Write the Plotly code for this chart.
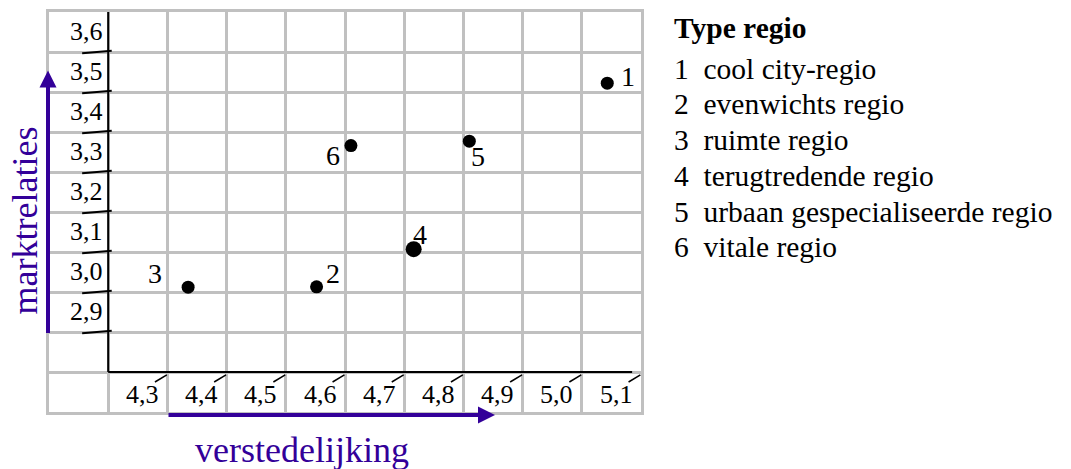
import plotly.graph_objects as go

# ---------------- data ----------------
regio_ids = ["1", "2", "3", "4", "5", "6"]
regio_names = [
    "cool city-regio",
    "evenwichts regio",
    "ruimte regio",
    "terugtredende regio",
    "urbaan gespecialiseerde regio",
    "vitale regio",
]
verstedelijking = [5.043, 4.552, 4.335, 4.716, 4.81, 4.61]
marktrelaties = [3.522, 3.013, 3.012, 3.107, 3.377, 3.366]

x_ticks = [4.3, 4.4, 4.5, 4.6, 4.7, 4.8, 4.9, 5.0, 5.1]
x_tick_labels = ["4,3", "4,4", "4,5", "4,6", "4,7", "4,8", "4,9", "5,0", "5,1"]
y_ticks = [2.9, 3.0, 3.1, 3.2, 3.3, 3.4, 3.5, 3.6]
y_tick_labels = ["2,9", "3,0", "3,1", "3,2", "3,3", "3,4", "3,5", "3,6"]

legend_title = "Type regio"
x_title = "verstedelijking"
y_title = "marktrelaties"

# ---------------- styles ----------------
FONT = "Liberation Serif"
PURPLE = "#330099"
GRID = "#c0c0c0"
X_RANGE = [4.1, 5.1]
Y_RANGE = [2.7, 3.7]
X_ORIGIN = 4.2
Y_ORIGIN = 2.8
# label offsets (px) relative to each point: (dx, dy) screen
label_offsets = [(21, -9), (16, -15), (-33, -16), (6, -17), (9, 13), (-18, 8)]
marker_sizes = [13, 13, 13, 16, 13, 13]

W, H = 1071, 469
ML, MR, MT, MB = 49, 430, 9, 57
PW = W - ML - MR
PH = H - MT - MB
LEGEND_X = 672
LEGEND_ROWS = [25, 66, 102, 138, 174, 210, 246]


def xp(v):
    return (v - X_RANGE[0]) / (X_RANGE[1] - X_RANGE[0])


def py_paper(pix):
    # pixel row (from top of figure) -> paper y
    return (H - MB - pix) / PH


def px_paper(pix):
    return (pix - ML) / PW


fig = go.Figure()
fig.add_trace(
    go.Scatter(
        x=verstedelijking,
        y=marktrelaties,
        mode="markers",
        marker=dict(color="#000000", size=marker_sizes, opacity=1, line=dict(width=0)),
        hoverinfo="skip",
        showlegend=False,
    )
)

shapes = []
annotations = []

# black axes
shapes.append(dict(type="line", xref="x", yref="y", x0=X_ORIGIN, x1=X_ORIGIN,
                   y0=Y_ORIGIN, y1=Y_RANGE[1], line=dict(color="black", width=2), layer="above"))
shapes.append(dict(type="line", xref="x", yref="y", x0=X_ORIGIN, x1=5.085,
                   y0=Y_ORIGIN, y1=Y_ORIGIN, line=dict(color="black", width=2), layer="above"))

# y tick marks + labels
for v, lab in zip(y_ticks, y_tick_labels):
    shapes.append(dict(type="line", xref="x", yref="y", x0=X_ORIGIN - 0.044, x1=X_ORIGIN + 0.006,
                       y0=v - 0.003, y1=v + 0.003, line=dict(color="black", width=2), layer="above"))
    annotations.append(dict(xref="x", yref="y", x=X_ORIGIN, y=v + 0.05, text=lab,
                            xanchor="right", yanchor="middle", xshift=-3, yshift=1,
                            showarrow=False, font=dict(family=FONT, size=26, color="black")))

# x tick marks + labels
for v, lab in zip(x_ticks, x_tick_labels):
    shapes.append(dict(type="line", xref="x", yref="y", x0=v - 0.021, x1=v - 0.001,
                       y0=Y_ORIGIN - 0.025, y1=Y_ORIGIN - 0.007,
                       line=dict(color="black", width=1.5), layer="above"))
    annotations.append(dict(xref="x", yref="y", x=v - 0.042, y=Y_ORIGIN - 0.05, text=lab,
                            xanchor="center", yanchor="middle", yshift=-2,
                            showarrow=False, font=dict(family=FONT, size=26, color="black")))

# point labels
for xv, yv, lab, (dx, dy) in zip(verstedelijking, marktrelaties, regio_ids, label_offsets):
    annotations.append(dict(xref="x", yref="y", x=xv, y=yv, text=lab, xshift=dx, yshift=-dy - 2,
                            xanchor="center", yanchor="middle", showarrow=False,
                            font=dict(family=FONT, size=28, color="black")))

# purple arrows (paper coords, tails in pixels)
annotations.append(dict(xref="paper", yref="paper", axref="pixel", ayref="pixel",
                        x=xp(X_RANGE[0]) - 1.0 / PW, y=py_paper(68), ax=0, ay=264,
                        text="", showarrow=True, arrowhead=2, arrowsize=0.85,
                        arrowwidth=4, arrowcolor=PURPLE))
annotations.append(dict(xref="paper", yref="paper", axref="pixel", ayref="pixel",
                        x=px_paper(495), y=py_paper(415), ax=-328, ay=0,
                        text="", showarrow=True, arrowhead=2, arrowsize=0.85,
                        arrowwidth=4, arrowcolor=PURPLE))

# axis titles
annotations.append(dict(xref="paper", yref="paper", x=px_paper(25), y=py_paper(219),
                        text=y_title, textangle=-90, showarrow=False,
                        xanchor="center", yanchor="middle",
                        font=dict(family=FONT, size=36, color=PURPLE)))
annotations.append(dict(xref="paper", yref="paper", x=px_paper(301.5), y=py_paper(450),
                        text=x_title, showarrow=False, xanchor="center", yanchor="middle",
                        font=dict(family=FONT, size=36, color=PURPLE)))

# legend text block: one line each
legend_lines = ["<b>" + legend_title + "</b>"] + [
    i + "\u00a0\u00a0" + n for i, n in zip(regio_ids, regio_names)
]
for line, row in zip(legend_lines, LEGEND_ROWS):
    annotations.append(dict(xref="paper", yref="paper", x=px_paper(LEGEND_X),
                            y=py_paper(row), text=line, align="left",
                            showarrow=False, xanchor="left", yanchor="middle",
                            font=dict(family=FONT, size=29.5, color="black")))

fig.update_layout(
    width=W, height=H,
    margin=dict(l=ML, r=MR, t=MT, b=MB, pad=0),
    paper_bgcolor="white", plot_bgcolor="white",
    showlegend=False,
    shapes=shapes, annotations=annotations,
    xaxis=dict(range=X_RANGE, tick0=4.1, dtick=0.1, showgrid=True, gridcolor=GRID, gridwidth=3,
               showticklabels=False, ticks="", zeroline=False, showline=True, mirror=True,
               linecolor=GRID, linewidth=3, fixedrange=True),
    yaxis=dict(range=Y_RANGE, tick0=2.7, dtick=0.1, showgrid=True, gridcolor=GRID, gridwidth=3,
               showticklabels=False, ticks="", zeroline=False, showline=True, mirror=True,
               linecolor=GRID, linewidth=3, fixedrange=True),
)

fig.write_html("out.html", config={"displayModeBar": False},
               post_script="document.body.style.margin='0px';")
